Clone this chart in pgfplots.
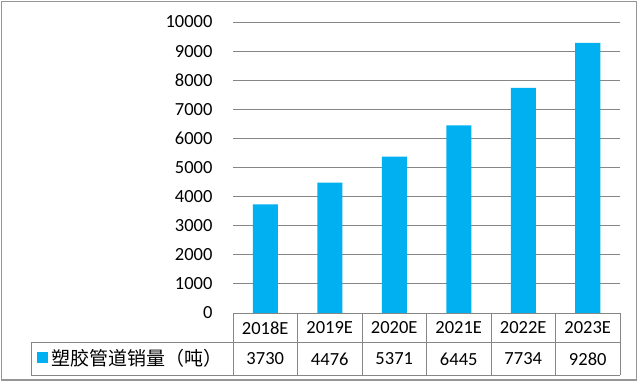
\documentclass[border=0pt]{standalone}
\usepackage{fontspec}
\setmainfont{Carlito}
\newfontfamily\cjk{Noto Sans CJK SC}
\usepackage{pgfplots}
\usepackage{pgfplotstable}
\pgfplotsset{compat=1.18}
\definecolor{barblue}{RGB}{0,176,240}
\definecolor{gridgray}{RGB}{134,134,134}
\definecolor{framegray}{RGB}{150,150,150}
\pgfplotstableread{
year v
2018E 3730
2019E 4476
2020E 5371
2021E 6445
2022E 7734
2023E 9280
}\data
\begin{document}
\begin{tikzpicture}[x=1pt,y=1pt,font=\fontsize{18.5}{22}\selectfont]
\useasboundingbox (0,0) rectangle (640,385);
\fill[white] (0,0) rectangle (640,385);
\draw[framegray, line width=1.6pt] (1.5,5) rectangle (636.5,383.5);
\begin{axis}[
  at={(233pt,72pt)}, anchor=south west,
  width=387pt, height=291pt, scale only axis,
  xmin=-0.5, xmax=5.5, ymin=0, ymax=10000,
  ytick={0,1000,...,10000},
  xtick={0,...,5},
  xticklabels from table={\data}{year},
  xticklabel style={anchor=center, yshift=-15pt},
  yticklabel style={xshift=-17pt},
  ymajorgrids, grid style={gridgray, line width=0.8pt},
  axis line style={draw=none},
  major tick length=0pt,
  clip=false,
  scaled y ticks=false,
  /pgf/number format/.cd, 1000 sep={}, assume math mode=true,
]
\addplot[ybar, bar width=25pt, fill=barblue, draw=none] table[x expr=\coordindex, y=v]{\data};
\addplot[draw=none, mark=none, nodes near coords, point meta=\thisrow{v},
  nodes near coords style={anchor=center, text=black}]
  table[x expr=\coordindex, y expr=-1581]{\data};
\end{axis}
\foreach \i in {0,...,6} {
  \draw[gridgray, line width=0.8pt] ({233+64.5*\i},72) -- ({233+64.5*\i},10);
}
\draw[gridgray, line width=0.8pt] (31,43) -- (620,43);
\draw[gridgray, line width=0.8pt] (31,10) -- (620,10);
\draw[gridgray, line width=0.8pt] (31,43) -- (31,10);
\fill[barblue] (37,22) rectangle (48,33);
\node[anchor=west, inner sep=0pt, font=\fontsize{19}{22}\selectfont] at (51,27) {\cjk 塑胶管道销量（吨）};
\end{tikzpicture}
\end{document}
